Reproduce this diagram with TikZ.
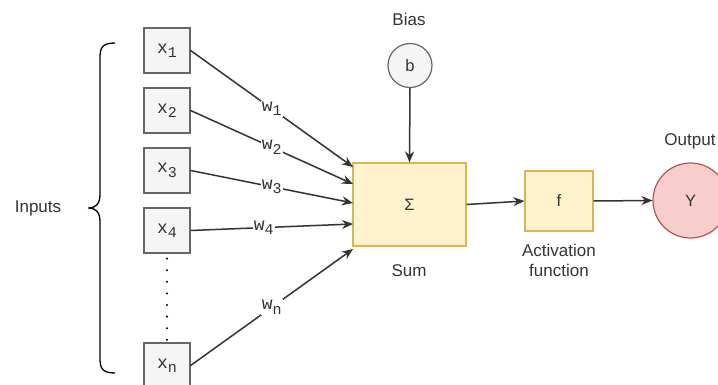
\documentclass[tikz,border=0pt]{standalone}
\usepackage{fontspec}
\setmainfont{Liberation Sans}
\setmonofont{Liberation Mono}
\usetikzlibrary{arrows.meta}
\definecolor{grayfill}{HTML}{F5F5F5}
\definecolor{graydraw}{HTML}{666666}
\definecolor{yelfill}{HTML}{FFF2CC}
\definecolor{yeldraw}{HTML}{D6B656}
\definecolor{redfill}{HTML}{F8CECC}
\definecolor{reddraw}{HTML}{B85450}
\definecolor{linec}{HTML}{333333}
\definecolor{textc}{HTML}{333333}
\newcommand{\mysub}[1]{\raisebox{-4.5pt}{\fontsize{15}{15}\ttfamily #1}}
\tikzset{
  inbox/.style={draw=graydraw, fill=grayfill, line width=1.2pt, minimum width=46pt, minimum height=45pt, inner sep=0pt, font=\fontsize{18}{20}\ttfamily, text=textc},
  sumbox/.style={draw=yeldraw, fill=yelfill, line width=1.2pt, inner sep=0pt, font=\fontsize{16.5}{18}\selectfont, text=textc},
  lbl/.style={font=\fontsize{17}{20}\selectfont, text=textc, align=center},
  wlbl/.style={font=\fontsize{18}{20}\ttfamily, text=textc, fill=white, inner sep=1pt},
  conn/.style={draw=linec, line width=1.5pt, -{Stealth[length=11pt,width=9pt]}},
}
\begin{document}
\begin{tikzpicture}[x=1pt,y=-1pt]
\useasboundingbox (0,0) rectangle (718,385);
% input boxes
\node[inbox] (x1) at (167,50.5) {x\mysub{1}};
\node[inbox] (x2) at (167,110.5) {x\mysub{2}};
\node[inbox] (x3) at (167,170.5) {x\mysub{3}};
\node[inbox] (x4) at (167,230.5) {x\mysub{4}};
\node[inbox] (xn) at (167,365.5) {x\mysub{n}};
% sum
\node[sumbox, minimum width=113pt, minimum height=83pt] (sum) at (409.5,204.5) {Σ};
\node[lbl] (sumlbl) at (409,271) {Sum};
% bias
\node[circle, draw=graydraw, fill=grayfill, line width=1.2pt, minimum size=44pt, inner sep=0pt, font=\fontsize{16.5}{18}\selectfont, text=textc] (b) at (410,65.5) {b};
\node[lbl] (biaslbl) at (409,19) {Bias};
% activation
\node[sumbox, minimum width=68pt, minimum height=60pt] (f) at (559,201) {f};
\node[lbl] (actlbl) at (559,260) {Activation\\function};
% output
\node[circle, draw=reddraw, fill=redfill, line width=1.2pt, minimum size=75pt, inner sep=0pt, font=\fontsize{16.5}{18}\selectfont, text=textc] (y) at (690.5,200.5) {Y};
\node[lbl] (outlbl) at (690,141) {Output};
% inputs label and brace
\node[lbl] (inlbl) at (38,208) {Inputs};
\coordinate (bt) at (115,43);
\coordinate (bb) at (115,373);
\draw[line width=1.3pt, draw=black]
  (bt) .. controls (102,43) and (100,48) .. (100,58)
  -- (100,194) .. controls (100,204) and (96,208) .. (88,208)
  .. controls (96,208) and (100,212) .. (100,222)
  -- (100,358) .. controls (100,368) and (102,373) .. (bb);
% connectors
\coordinate (e1) at (353,167);
\coordinate (e2) at (353,184);
\coordinate (e3) at (353,203);
\coordinate (e4) at (353,224);
\coordinate (en) at (353,249);
\draw[conn] (x1.east) -- node[wlbl, pos=0.5] {w\mysub{1}} (e1);
\draw[conn] (x2.east) -- node[wlbl, pos=0.5] {w\mysub{2}} (e2);
\draw[conn] (x3.east) -- node[wlbl, pos=0.5] {w\mysub{3}} (e3);
\draw[conn] (x4.east) -- node[wlbl, pos=0.45] {w\mysub{4}} (e4);
\draw[conn] (xn.east) -- node[wlbl, pos=0.5] {w\mysub{n}} (en);
\draw[conn] (b.south) -- (sum.north);
\draw[conn] (sum.east) -- (f.west);
\draw[conn] (f.east) -- (y.west);
\draw[draw=black, line width=2.3pt, dash pattern=on 0pt off 11.6pt, line cap=round, shorten <=5pt] (x4.south) -- (xn.north);
\end{tikzpicture}
\end{document}
